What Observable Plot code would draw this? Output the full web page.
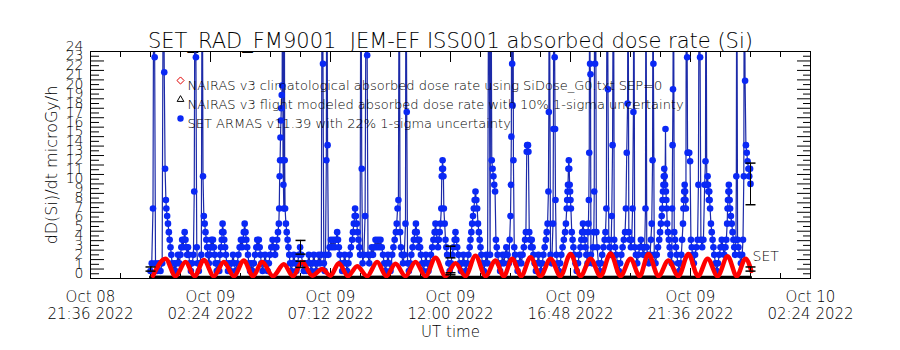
<!DOCTYPE html>
<html><head><meta charset="utf-8">
<script src="https://cdn.jsdelivr.net/npm/d3@7"></script>
<script src="https://cdn.jsdelivr.net/npm/@observablehq/plot@0.6"></script>
<style>
body{margin:0;background:#fff;}
#chart svg{display:block;}
</style></head><body><div id="chart"></div>
<script>
// ---------- texts ----------
const title = "SET_RAD_FM9001  JEM-EF ISS001 absorbed dose rate (Si)";
const yAxisTitle = "dD(Si)/dt microGy/h";
const xAxisTitle = "UT time";
const legendLabels = [
  "NAIRAS v3 climatological absorbed dose rate using SiDose_G0.txt SEP=0",
  "NAIRAS v3 flight modeled absorbed dose rate with 10% 1-sigma uncertainty",
  "SET ARMAS v11.39 with 22% 1-sigma uncertainty"
];
const seriesTag = ["SET"];
// ---------- ticks ----------
const xTickTimes = ["2022-10-08T21:36Z","2022-10-09T02:24Z","2022-10-09T07:12Z","2022-10-09T12:00Z","2022-10-09T16:48Z","2022-10-09T21:36Z","2022-10-10T02:24Z"];
const yTickLabels = [0,1,2,3,4,5,6,7,8,9,10,11,12,13,14,15,16,17,18,19,20,21,22,23,24];
// ---------- data : [minutes after 2022-10-09 00:00 UT, value] ----------
const dataStart = "2022-10-09T00:00Z";
const setArmas = [[0,0.8],[3,1.6],[6,7.4],[8,40],[10,23.4],[12,1.6],[16,0.8],[20,1.6],[24,0.8],[28,1.6],[31,40],[33,21.8],[35,11.6],[37,8.3],[38,7.4],[40,6.6],[42,5.8],[44,4.9],[46,4.1],[48,3.3],[50,2.5],[52,1.6],[55,0.8],[58,1.6],
[60,0.8],[63,1.6],[66,2.5],[69,1.6],[72,2.5],[74,3.3],[76,4.1],[78,3.3],[80,4.1],[82,4.9],[84,4.1],[86,3.3],[88,2.5],[90,3.3],[92,2.5],[94,1.6],[97,0.8],[100,1.6],
[103,2.5],[105,9.2],[107,40],[109,23.4],[111,3.3],[113,1.6],[116,0.8],[118,1.6],[122,2.5],[124,40],[126,10.8],[128,6.6],[130,5.8],[132,4.9],[134,4.1],[136,3.3],[138,2.5],[140,1.6],
[142,2.5],[144,3.3],[146,4.1],[148,3.3],[150,4.1],[152,3.3],[154,2.5],[156,1.6],[159,0.8],[162,1.6],
[165,0.8],[167,2.5],[169,3.3],[171,4.1],[172,4.9],[173,5.8],[175,4.9],[177,4.1],[179,3.3],[181,2.5],[183,1.6],[186,0.8],[189,1.6],[192,0.8],[195,1.6],[198,2.5],[201,1.6],[204,0.8],
[208,1.6],[211,2.5],[214,3.3],[217,4.1],[220,3.3],[222,4.1],[224,4.9],[226,5.8],[228,4.9],[230,4.1],[232,3.3],[234,2.5],[236,1.6],[239,0.8],[242,1.6],[245,0.8],
[248,1.6],[251,2.5],[254,3.3],[256,4.1],[258,3.3],[260,4.1],[262,3.3],[264,2.5],[266,1.6],[269,0.8],[272,1.6],[275,2.5],[278,1.6],[281,0.8],[284,1.6],
[287,2.5],[290,3.3],[293,4.1],[296,3.3],[299,2.5],[302,3.3],[304,4.1],[306,4.9],[308,5.8],[309,7.4],[310,10.8],[311,12.5],[312,14.9],[313,16.7],[314,18.0],[315,19.4],[316,20.4],[317,40],[318,12.5],[319,9.9],[320,7.4],[321,40],[322,12.5],[323,7.4],[325,5.8],[327,4.9],[329,4.1],[331,3.3],[333,2.5],[335,1.6],[338,0.8],
[341,1.6],[344,2.5],[347,1.6],[350,0.8],[353,1.6],[356,2.5],[359,3.3],[362,2.5],[365,1.6],[368,0.8],[371,1.6],[374,0.8],[377,1.6],
[380,2.5],[383,1.6],[386,0.8],[389,1.6],[392,2.5],[395,1.6],[398,0.8],[401,1.6],[404,2.5],[407,1.6],[410,2.5],[412,40],[414,22.7],[416,1.6],[418,0.8],
[420,2.5],[422,12.5],[423,40],[425,14.1],[427,2.5],[430,3.3],[433,4.1],[436,3.3],[439,4.1],[442,3.3],[445,4.1],[448,4.9],[450,4.1],[452,3.3],[454,2.5],[457,1.6],[460,0.8],[463,1.6],[466,2.5],[469,1.6],[472,0.8],
[475,1.6],[478,2.5],[481,3.3],[484,4.1],[486,4.9],[488,5.8],[490,6.6],[491,7.4],[493,6.6],[495,5.8],[497,4.9],[499,4.1],[501,3.3],[503,2.5],[505,40],[507,11.6],[509,1.6],[512,2.5],[515,6.6],[518,40],[520,23.6],[522,2.5],
[525,1.6],[528,2.5],[531,3.3],[534,2.5],[537,3.3],[540,4.1],[543,3.3],[546,4.1],[549,3.3],[552,4.1],[555,3.3],[558,2.5],[561,1.6],[564,0.8],[567,1.6],[570,2.5],[573,1.6],[576,0.8],
[580,2.5],[583,3.3],[586,4.1],[589,4.9],[591,5.8],[593,7.4],[595,8.3],[597,40],[599,4.9],[601,3.3],[603,2.5],[606,1.6],[609,2.5],[612,5.8],[613,40],[615,17.6],[617,1.6],[620,0.8],
[623,1.6],[626,2.5],[629,3.3],[632,4.1],[635,4.9],[637,5.8],[639,4.9],[641,4.1],[643,3.3],[645,4.1],[647,3.3],[649,2.5],[652,1.6],[655,0.8],[658,1.6],[661,2.5],[664,1.6],[667,0.8],[670,1.6],
[673,2.5],[676,3.3],[679,4.1],[682,4.9],[684,5.8],[686,4.9],[688,4.1],[690,3.3],[692,4.1],[694,4.9],[696,5.8],[698,7.4],[699,10.8],[700,11.6],[701,12.5],[702,11.6],[703,10.8],[704,7.4],[706,5.8],[708,4.1],[710,3.3],[712,2.5],[715,1.6],[718,0.8],
[721,1.6],[724,2.5],[727,3.3],[730,4.1],[732,4.9],[734,4.1],[736,3.3],[739,2.5],[742,1.6],[745,0.8],[748,1.6],[751,2.5],[754,1.6],[757,0.8],[760,1.6],
[763,2.5],[766,3.3],[768,4.1],[770,4.9],[772,5.8],[774,6.6],[776,7.4],[778,8.3],[780,9.2],[782,8.3],[784,7.4],[786,5.8],[788,4.9],[790,4.1],[792,3.3],[794,2.5],[797,1.6],[800,0.8],[803,1.6],[806,2.5],[809,1.6],
[812,40],[815,2.5],[817,40],[819,12.5],[821,11.6],[823,10.8],[825,9.9],[827,9.2],[829,4.1],[831,3.3],[833,2.5],[836,1.6],[839,0.8],[842,1.6],[845,2.5],[848,1.6],[851,2.5],[854,3.3],[857,2.5],[860,1.6],
[862,4.1],[864,6.6],[865,9.9],[866,15.0],[867,40],[868,22.7],[869,18.3],[870,40],[871,12.5],[873,3.3],[875,2.5],[878,1.6],[881,0.8],
[884,1.6],[887,2.5],[890,1.6],[893,2.5],[896,3.3],[899,4.1],[901,4.9],[903,13.4],[904,14.1],[906,14.1],[907,13.4],[909,4.9],[911,4.1],[913,3.3],[915,4.1],[917,3.3],[919,2.5],[922,1.6],[925,0.8],[928,1.6],[931,2.5],[934,1.6],[937,0.8],
[940,1.6],[943,2.5],[946,3.3],[949,4.1],[951,4.9],[953,5.8],[955,9.2],[956,17.6],[957,40],[960,2.5],[963,1.6],[966,5.8],[967,15.8],[968,40],[970,23.4],[971,15.8],[972,8.3],[974,2.5],[977,1.6],[980,0.8],
[983,1.6],[986,2.5],[989,3.3],[992,4.1],[995,4.9],[997,5.8],[999,7.4],[1000,8.3],[1001,9.2],[1002,9.9],[1003,11.6],[1004,12.5],[1005,11.6],[1006,9.9],[1007,9.2],[1008,8.3],[1009,7.4],[1011,4.9],[1013,4.1],[1015,3.3],[1017,2.5],[1020,1.6],[1023,0.8],
[1026,1.6],[1029,2.5],[1032,3.3],[1034,4.1],[1036,4.9],[1038,5.8],[1040,4.9],[1042,4.1],[1044,3.3],[1046,2.5],[1049,1.6],
[1050,4.9],[1051,5.8],[1052,8.3],[1053,13.3],[1054,40],[1055,22.7],[1056,21.6],[1057,2.5],[1060,1.6],
[1062,3.3],[1064,4.9],[1065,9.2],[1066,40],[1067,22.7],[1068,40],[1070,4.9],[1072,3.3],[1075,1.6],[1078,0.8],
[1081,1.6],[1084,2.5],[1087,3.3],[1090,4.1],[1092,4.9],[1094,7.4],[1096,40],[1098,20.0],[1100,4.1],[1102,3.3],
[1105,2.5],[1107,6.6],[1109,14.1],[1111,40],[1113,4.1],[1115,3.3],[1118,2.5],[1121,1.6],[1124,0.8],
[1127,1.6],[1130,2.5],[1133,3.3],[1136,4.1],[1139,4.9],[1141,7.4],[1143,13.3],[1145,18.5],[1146,40],[1148,4.9],[1150,4.1],
[1153,3.3],[1155,4.1],[1157,7.4],[1159,17.6],[1160,40],[1162,3.3],[1165,2.5],[1168,1.6],
[1171,2.5],[1174,3.3],[1177,4.1],[1180,3.3],[1183,2.5],
[1186,3.3],[1188,7.4],[1189,40],[1191,3.3],[1193,2.5],
[1196,1.6],[1199,2.5],[1201,4.1],[1203,5.8],[1205,12.5],[1206,40],[1207,22.7],[1209,2.5],[1212,1.6],
[1215,2.5],[1218,3.3],[1221,4.1],[1223,4.9],[1225,5.8],[1227,6.6],[1228,7.4],[1229,8.3],[1230,9.2],[1231,9.9],[1232,10.8],[1233,11.6],[1234,10.8],[1235,9.9],[1236,15.8],[1237,9.2],[1238,8.3],[1239,7.4],[1240,5.8],[1242,4.9],[1244,4.1],[1246,3.3],[1248,2.5],[1251,1.6],
[1252,7.4],[1253,14.1],[1254,20.0],[1255,40],[1257,4.9],[1259,4.1],[1261,3.3],[1263,2.5],[1266,1.6],[1269,0.8],
[1272,1.6],[1274,2.5],[1276,4.1],[1278,5.8],[1279,7.4],[1280,8.3],[1281,9.2],[1282,9.9],[1283,9.2],[1284,8.3],[1285,7.4],[1286,40],[1288,23.4],[1289,13.3],[1291,13.3],[1293,13.3],[1295,12.4],[1297,4.1],[1299,3.3],[1301,2.5],[1304,1.6],
[1307,2.5],[1310,3.3],[1313,4.1],[1315,9.9],[1317,40],[1319,23.4],[1321,4.1],
[1324,3.3],[1327,4.1],[1330,9.9],[1332,12.4],[1333,40],[1335,9.9],
[1337,10.8],[1338,9.9],[1339,9.2],[1340,8.3],[1341,9.2],[1342,8.3],[1343,7.4],[1345,5.8],[1347,4.9],[1349,4.1],[1351,3.3],[1353,2.5],[1356,1.6],[1359,0.8],[1362,1.6],
[1365,2.5],[1368,3.3],[1371,4.1],[1374,3.3],[1377,2.5],
[1380,3.3],[1382,4.1],[1384,5.8],[1385,7.4],[1386,8.3],[1387,9.2],[1388,9.9],[1389,9.2],[1390,8.3],[1391,7.4],[1393,6.6],[1395,5.8],[1397,4.9],[1399,4.1],[1401,3.3],[1403,2.5],
[1405,4.1],[1406,10.8],[1407,40],[1409,4.1],[1411,3.3],[1414,2.5],[1417,1.6],
[1420,2.5],[1422,4.1],[1424,10.8],[1425,40],[1427,20.9],[1429,14.1],[1431,13.3],[1433,12.4],[1435,11.6],[1437,10.8],[1439,11.6],[1440,10.0]];
const nairasClim = [[6,0.3],[36,2.1],[60,0.25],[84,1.75],[106,0.25],[128,1.95],[152,0.25],[176,1.75],[200,0.25],[224,1.9],[246,0.25],[268,1.75],[294,0.25],[320,1.5],[342,0.25],[364,1.75],[388,0.3],[412,1.0],[432,0.3],[452,1.6],[474,0.25],[496,1.3],[520,0.25],[544,1.75],[566,0.25],[588,1.55],[612,0.25],[636,1.75],[660,0.25],[684,2.2],[708,0.25],[732,1.6],[756,0.25],[780,2.4],[804,0.25],[828,1.9],[848,0.25],[868,2.1],[890,0.25],[912,2.25],[936,0.25],[960,2.1],[984,0.25],[1008,2.6],[1032,0.25],[1056,2.1],[1080,0.25],[1104,2.65],[1128,0.25],[1152,2.1],[1174,0.25],[1195,2.6],[1219,0.25],[1243,1.9],[1267,0.25],[1291,2.6],[1314,0.25],[1337,2.1],[1361,0.25],[1385,2.35],[1407,0.25],[1428,2.1],[1442,0.8]];
const nairasFlight = [[0,0.15],[120,0.12],[240,0.14],[360,0.13],[480,0.12],[600,0.15],[720,0.14],[840,0.13],[960,0.12],[1080,0.14],[1200,0.15],[1320,0.13],[1440,0.14]];
const errorPoints = [[0,1.0],[360,3.3],[360,1.5],[720,2.8],[720,0.5],[1440,10.0],[1440,1.0]];
const errorFraction = 0.22;
const tagPoint = [[1440,2.3]];

// ---------- build ----------
const t0 = Date.parse(dataStart);
const toRow = ([m, v]) => ({t: new Date(t0 + m * 60000), v});
const blue = setArmas.map(toRow);
const red = nairasClim.map(toRow);
const black = nairasFlight.map(toRow);
const errs = errorPoints.map(toRow);
const tag = tagPoint.map(toRow);
const xMajor = xTickTimes.map(s => new Date(s));
const xMinor = d3.range(0, 28.8 * 60 + 1, 72).map(m => new Date(xMajor[0].getTime() + m * 60000));
const yMinor = d3.range(0.5, 24, 1);
const fmt = d3.utcFormat("%b %d\n%H:%M %Y");
const FONT = "'DejaVu Sans', 'Liberation Sans', sans-serif";
const capSymbol = {draw(ctx, size) { const w = Math.sqrt(size / Math.PI); ctx.moveTo(-w, 0); ctx.lineTo(w, 0); }};
const noLabel = () => "";

const chart = Plot.plot({
  width: 900, height: 350,
  marginTop: 51, marginBottom: 72, marginLeft: 90, marginRight: 90,
  style: {fontFamily: FONT, fontWeight: 200, background: "#fff", color: "#000", overflow: "visible"},
  x: {type: "utc", domain: [xMajor[0], xMajor[xMajor.length - 1]]},
  y: {domain: [0, 24]},
  marks: [
    // axis ticks (inward)
    Plot.axisX(xMajor, {anchor: "bottom", tickSize: -10, tickFormat: noLabel, label: null}),
    Plot.axisX(xMajor, {anchor: "top", tickSize: -10, tickFormat: noLabel, label: null}),
    Plot.axisX(xMinor, {anchor: "bottom", tickSize: -5, tickFormat: noLabel, label: null}),
    Plot.axisX(xMinor, {anchor: "top", tickSize: -5, tickFormat: noLabel, label: null}),
    Plot.axisY(yTickLabels, {anchor: "left", tickSize: -14, tickFormat: noLabel, label: yAxisTitle, labelAnchor: "center", labelOffset: 45, labelArrow: "none", fontSize: 16}),
    Plot.axisY(yMinor, {anchor: "left", tickSize: -9, tickFormat: noLabel, label: null}),
    Plot.axisY(yTickLabels, {anchor: "right", tickSize: -14, tickFormat: noLabel, label: null}),
    Plot.axisY(yMinor, {anchor: "right", tickSize: -8, tickFormat: noLabel, label: null}),
    // tick labels
    Plot.text(xMajor, {x: d => d, frameAnchor: "bottom", text: d => fmt(d), dy: 11, lineAnchor: "top", lineHeight: 1.15, fontSize: 15}),
    Plot.text(yTickLabels, {y: d => d, frameAnchor: "left", text: d => String(d), dx: -7, dy: -5, textAnchor: "end", fontSize: 14}),
    // axis titles
    Plot.text([xAxisTitle], {frameAnchor: "bottom", text: d => d, dy: 58, fontSize: 15}),
    Plot.text([title], {frameAnchor: "top", text: d => d, dy: -18, fontSize: 21}),
    // series
    Plot.line(black, {x: "t", y: "v", stroke: "#000", strokeWidth: 3, clip: true}),
    Plot.line(blue, {x: "t", y: "v", stroke: "#1c2aa8", strokeWidth: 1.2, clip: true}),
    Plot.dot(blue, {x: "t", y: "v", fill: "#0a28f5", r: 3.3, clip: true}),
    Plot.line(red, {x: "t", y: "v", stroke: "#ff0000", strokeWidth: 4.5, curve: "monotone-x", clip: true}),
    // error bars
    Plot.ruleX(errs, {x: "t", y1: d => d.v * (1 - errorFraction), y2: d => d.v * (1 + errorFraction), stroke: "#000"}),
    Plot.dot(errs, {x: "t", y: d => d.v * (1 - errorFraction), symbol: capSymbol, r: 5, stroke: "#000", fill: "none"}),
    Plot.dot(errs, {x: "t", y: d => d.v * (1 + errorFraction), symbol: capSymbol, r: 5, stroke: "#000", fill: "none"}),
    Plot.text(tag, {x: "t", y: "v", text: () => seriesTag[0], dx: 2, textAnchor: "start", fontSize: 14}),
    // legend
    Plot.dot([0], {frameAnchor: "top-left", dx: 90, dy: 29, symbol: "diamond2", r: 3.2, stroke: "#e00000", strokeWidth: 1}),
    Plot.dot([0], {frameAnchor: "top-left", dx: 90, dy: 48, symbol: "triangle2", r: 3.2, stroke: "#000", strokeWidth: 1}),
    Plot.dot([0], {frameAnchor: "top-left", dx: 90, dy: 67, r: 3.2, fill: "#0a28f5"}),
    Plot.text([legendLabels[0]], {frameAnchor: "top-left", text: d => d, dx: 97, dy: 29, textAnchor: "start", fontSize: 13}),
    Plot.text([legendLabels[1]], {frameAnchor: "top-left", text: d => d, dx: 97, dy: 48, textAnchor: "start", fontSize: 13}),
    Plot.text([legendLabels[2]], {frameAnchor: "top-left", text: d => d, dx: 97, dy: 67, textAnchor: "start", fontSize: 13}),
    Plot.frame({stroke: "#000"})
  ]
});
document.getElementById("chart").append(chart);
</script></body></html>
